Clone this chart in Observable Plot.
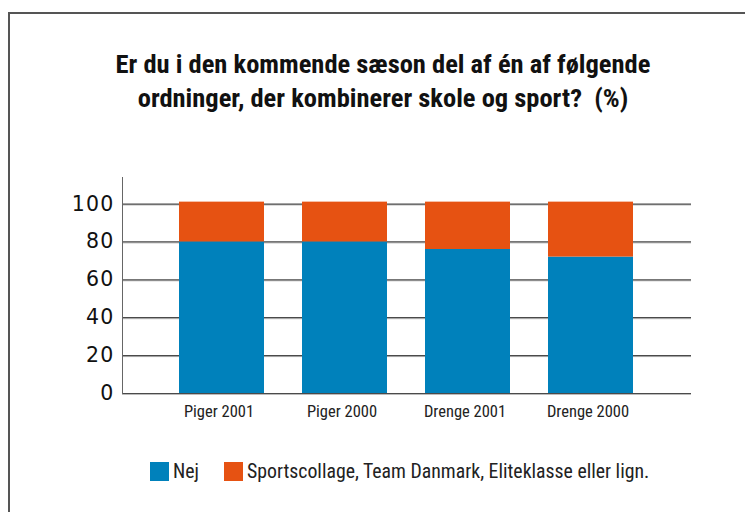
<!DOCTYPE html>
<html>
<head>
<meta charset="utf-8">
<script src="https://cdn.jsdelivr.net/npm/d3@7"></script>
<script src="https://cdn.jsdelivr.net/npm/@observablehq/plot@0.6"></script>
<style>
  html, body { margin: 0; padding: 0; background: #fff; }
  body { width: 745px; height: 512px; position: relative; overflow: hidden; }
  #frame { position: absolute; left: 8px; top: 12px; width: 800px; height: 600px;
           border-top: 2px solid #555; border-left: 2px solid #555; box-sizing: border-box; }
  #title { position: absolute; left: 0; top: 47px; width: 766px; text-align: center;
           font-family: "Liberation Sans Narrow", "Roboto Condensed", "DejaVu Sans Condensed", sans-serif;
           font-weight: bold; font-size: 26.5px; line-height: 34px; color: #111; }
  #chart { position: absolute; left: 0; top: 160px; }
  #legend { position: absolute; left: 150px; top: 460px; display: flex; align-items: center;
            font-family: "Liberation Sans Narrow", "Roboto Condensed", "DejaVu Sans Condensed", sans-serif;
            font-size: 19.8px; color: #222; }
  .item { display: flex; align-items: center; margin-right: 25px; }
  .sw { width: 19px; height: 19px; margin-right: 4px; }
</style>
</head>
<body>
<div id="frame"></div>
<div id="title">Er du i den kommende sæson del af én af følgende<br>ordninger, der kombinerer skole og sport?&nbsp; (%)</div>
<div id="chart"></div>
<div id="legend"></div>
<script>
const categories = ["Piger 2001", "Piger 2000", "Drenge 2001", "Drenge 2000"];
const seriesNames = ["Nej", "Sportscollage, Team Danmark, Eliteklasse eller lign."];
const nejValues = [80, 80, 76, 72];
const sportValues = [21, 21, 25, 29];
const colors = ["#0081BB", "#E65212"];
const yTicks = [0, 20, 40, 60, 80, 100];

const data = [];
categories.forEach((c, i) => {
  data.push({cat: c, series: seriesNames[0], value: nejValues[i]});
  data.push({cat: c, series: seriesNames[1], value: sportValues[i]});
});

const plot = Plot.plot({
  width: 745,
  height: 270,
  marginLeft: 122,
  marginRight: 54,
  marginTop: 17,
  marginBottom: 37,
  style: {background: "transparent", overflow: "visible"},
  x: {domain: categories, paddingInner: 0.305, paddingOuter: 0.453, label: null},
  y: {domain: [0, 114], label: null},
  color: {domain: seriesNames, range: colors},
  marks: [
    Plot.ruleY(yTicks, {stroke: "#bbb", strokeWidth: 1, dy: 1}),
    Plot.ruleY(yTicks, {stroke: "#4a4a4a", strokeWidth: 1.2}),
    Plot.frame({anchor: "left", stroke: "#666"}),
    Plot.barY(data, Plot.stackY({x: "cat", y: "value", fill: "series", order: seriesNames})),
    Plot.axisY(yTicks, {tickSize: 0, tickPadding: 8, fill: "#111", label: null, fontSize: 20.5,
      fontFamily: "DejaVu Sans, sans-serif"}),
    Plot.axisX({tickSize: 0, tickPadding: 12, fontSize: 16.5, fill: "#222", dx: -3,
      fontFamily: "Liberation Sans Narrow, Roboto Condensed, DejaVu Sans Condensed, sans-serif", label: null})
  ]
});
d3.select(plot).selectAll("g[aria-label='y-axis tick label'] text").style("letter-spacing", "1.2px");
document.getElementById("chart").appendChild(plot);

const legend = document.getElementById("legend");
seriesNames.forEach((s, i) => {
  const item = document.createElement("div");
  item.className = "item";
  const sw = document.createElement("div");
  sw.className = "sw";
  sw.style.background = colors[i];
  const t = document.createElement("span");
  t.textContent = s;
  item.appendChild(sw); item.appendChild(t);
  legend.appendChild(item);
});
</script>
</body>
</html>
